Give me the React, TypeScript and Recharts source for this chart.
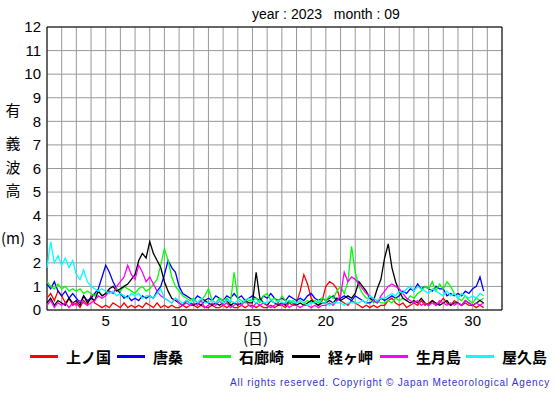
import { CartesianGrid, Line, LineChart, ReferenceArea, XAxis, YAxis } from "recharts";

// 6-hourly significant wave height (m), Sep 2023, 4 values per day
const kaminokuni = [
  0.5, 0.7, 0.4, 0.8, 0.6, 0.3, 0.5, 0.2, 0.3, 0.1, 0.4, 0.2, 0.6, 0.3, 0.2, 0.1,
  0.2, 0.1, 0.3, 0.2, 0.1, 0.3, 0.1, 0.2, 0.1, 0.2, 0.1, 0.3, 0.2, 0.1, 0.3, 0.1,
  0.2, 0.1, 0.2, 0.1, 0.1, 0.2, 0.1, 0.2, 0.2, 0.1, 0.2, 0.1, 0.1, 0.2, 0.1, 0.1,
  0.2, 0.1, 0.2, 0.1, 0.1, 0.2, 0.1, 0.2, 0.2, 0.1, 0.2, 0.1, 0.1, 0.2, 0.1, 0.2,
  0.2, 0.1, 0.3, 0.2, 0.3, 0.8, 1.5, 1.1, 0.5, 0.3, 0.2, 0.4, 1.0, 1.2, 1.1, 0.9,
  0.4, 0.3, 0.2, 0.4, 0.3, 0.2, 0.1, 0.2, 0.1, 0.2, 0.1, 0.2, 0.2, 0.4, 0.5, 0.3,
  0.2, 0.3, 0.1, 0.2, 0.3, 0.2, 0.4, 0.2, 0.3, 0.4, 0.2, 0.3, 0.5, 0.3, 0.2, 0.4,
  0.3, 0.2, 0.3, 0.2, 0.2, 0.1, 0.2, 0.1,
];
const karakuwa = [
  1.1, 0.9, 1.2, 0.8, 0.6, 0.8, 0.5, 0.7, 0.5, 0.3, 0.6, 0.4, 0.5, 0.7, 0.9, 1.4,
  1.9, 1.6, 1.2, 0.9, 0.7, 0.5, 0.6, 0.4, 0.5, 0.4, 0.6, 0.5, 0.6, 0.5, 0.8, 1.0,
  1.5, 2.1, 1.8, 1.6, 1.0, 0.7, 0.6, 0.5, 0.4, 0.6, 0.5, 0.4, 0.5, 0.4, 0.6, 0.5,
  0.4, 0.6, 0.5, 0.7, 0.5, 0.6, 0.4, 0.5, 0.6, 0.5, 0.4, 0.6, 0.5, 0.7, 0.5, 0.4,
  0.5, 0.4, 0.6, 0.5, 0.4, 0.5, 0.4, 0.6, 0.7, 0.5, 0.4, 0.5, 0.4, 0.5, 0.6, 0.4,
  0.5, 0.6, 0.5, 0.4, 0.6, 0.5, 0.4, 0.3, 0.3, 0.4, 0.3, 0.5, 0.4, 0.5, 0.6, 0.5,
  0.6, 0.8, 0.7, 0.9, 0.8, 1.1, 0.9, 1.0, 0.9, 0.8, 1.0, 0.9, 0.9, 0.6, 0.7, 0.6,
  0.7, 0.6, 0.8, 0.7, 0.9, 1.0, 1.4, 0.8,
];
const irozaki = [
  1.2, 1.0, 0.9, 1.1, 0.9, 1.0, 0.8, 0.9, 0.8, 0.9, 0.7, 0.8, 0.7, 0.6, 0.8, 0.6,
  0.7, 0.8, 0.7, 0.9, 0.8, 1.0, 0.9, 0.8, 0.7, 0.9, 1.0, 0.8, 0.9, 1.1, 1.3, 1.9,
  2.6, 2.1, 1.4, 1.0, 0.8, 0.6, 0.5, 0.4, 0.5, 0.3, 0.4, 0.6, 0.9, 0.4, 0.3, 0.5,
  0.4, 0.5, 0.3, 1.6, 0.5, 0.4, 0.3, 0.4, 0.4, 0.5, 0.3, 0.6, 0.7, 0.4, 0.5, 0.3,
  0.6, 0.4, 0.3, 0.4, 0.3, 0.4, 0.3, 0.4, 0.3, 0.4, 0.3, 0.5, 0.4, 0.6, 0.5, 0.8,
  1.0, 0.7, 1.2, 2.7, 1.6, 1.0, 0.7, 0.5, 0.5, 0.3, 0.4, 0.3, 0.3, 0.4, 0.3, 0.5,
  0.4, 0.5, 0.4, 0.6, 0.5, 0.7, 0.8, 1.0, 0.9, 1.2, 0.8, 1.1, 0.9, 1.2, 1.0, 0.7,
  0.5, 0.4, 0.6, 0.4, 0.3, 0.5, 0.4, 0.5,
];
const kyogamisaki = [
  0.3, 0.5, 0.2, 0.4, 0.3, 0.2, 0.5, 0.3, 0.4, 0.2, 0.6, 0.3, 0.5, 0.4, 0.8, 0.6,
  0.7, 0.9, 1.0, 0.8, 0.9, 1.0, 1.1, 1.3, 1.5, 2.1, 2.4, 2.2, 2.9, 2.4, 2.1, 1.8,
  1.2, 0.8, 0.5, 0.4, 0.3, 0.2, 0.4, 0.3, 0.2, 0.3, 0.2, 0.4, 0.3, 0.2, 0.3, 0.2,
  0.3, 0.4, 0.2, 0.3, 0.2, 0.3, 0.4, 0.3, 0.3, 1.6, 0.5, 0.3, 0.2, 0.4, 0.3, 0.2,
  0.3, 0.2, 0.4, 0.3, 0.2, 0.3, 0.2, 0.3, 0.4, 0.3, 0.2, 0.3, 0.3, 0.4, 0.3, 0.5,
  0.4, 0.5, 0.6, 0.5, 0.7, 1.2, 1.0, 0.8, 0.5, 0.4, 0.9, 1.3, 2.2, 2.8, 1.8, 1.2,
  0.8, 0.5, 0.4, 0.3, 0.4, 0.3, 0.5, 0.3, 0.2, 0.4, 0.3, 0.2, 0.3, 0.4, 0.2, 0.3,
  0.3, 0.2, 0.4, 0.3, 0.2, 0.3, 0.4, 0.3,
];
const ikitsukishima = [
  0.2, 0.4, 0.1, 0.3, 0.2, 0.3, 0.1, 0.3, 0.2, 0.4, 0.3, 0.2, 0.3, 0.4, 0.6, 0.5,
  0.6, 0.8, 0.7, 1.0, 1.2, 1.4, 1.9, 1.5, 1.3, 1.9, 1.6, 1.2, 1.4, 1.1, 0.8, 0.6,
  0.5, 0.4, 0.3, 0.5, 0.3, 0.2, 0.3, 0.2, 0.3, 0.2, 0.4, 0.1, 0.2, 0.3, 0.2, 0.4,
  0.2, 0.3, 0.1, 0.2, 0.3, 0.2, 0.4, 0.2, 0.1, 0.3, 0.2, 0.3, 0.2, 0.1, 0.2, 0.3,
  0.2, 0.3, 0.1, 0.2, 0.2, 0.1, 0.2, 0.2, 0.1, 0.2, 0.1, 0.2, 0.2, 0.3, 0.2, 0.4,
  0.6, 1.6, 1.2, 1.4, 1.3, 1.1, 0.9, 0.7, 0.6, 0.4, 0.3, 0.6, 0.8, 1.0, 1.1, 1.0,
  0.9, 0.7, 0.5, 0.4, 0.3, 0.4, 0.2, 0.3, 0.2, 0.3, 0.2, 0.4, 0.3, 0.2, 0.3, 0.2,
  0.3, 0.2, 0.4, 0.3, 0.2, 0.3, 0.2, 0.3,
];
const yakushima = [
  1.8, 2.9, 2.0, 2.3, 1.9, 2.2, 1.8, 2.1, 1.5, 1.3, 1.7, 1.2, 1.0, 0.9, 0.8, 0.9,
  0.8, 0.7, 0.8, 0.6, 0.7, 0.6, 0.5, 0.7, 0.6, 0.7, 0.5, 0.6, 0.6, 0.5, 0.7, 0.9,
  0.5, 0.4, 0.3, 0.5, 0.4, 0.3, 0.4, 0.3, 0.4, 0.3, 0.5, 0.3, 0.3, 0.4, 0.3, 0.4,
  0.3, 0.4, 0.4, 0.3, 0.4, 0.3, 0.4, 0.5, 0.4, 0.3, 0.4, 0.3, 0.3, 0.4, 0.3, 0.4,
  0.3, 0.3, 0.4, 0.3, 0.3, 0.4, 0.3, 0.2, 0.3, 0.3, 0.4, 0.3, 0.3, 0.2, 0.3, 0.3,
  0.3, 0.2, 0.3, 0.3, 0.3, 0.3, 0.4, 0.3, 0.6, 0.5, 0.4, 0.5, 0.5, 0.6, 0.7, 0.6,
  0.8, 0.7, 0.9, 1.0, 0.8, 1.0, 0.9, 0.8, 0.7, 0.9, 0.8, 0.7, 0.6, 0.8, 0.6, 0.7,
  0.5, 0.7, 0.6, 0.5, 0.6, 0.5, 0.7, 0.6,
];

const stations = [
  { key: "kaminokuni", name: "上ノ国", color: "#ff0000", values: kaminokuni },
  { key: "karakuwa", name: "唐桑", color: "#0000ff", values: karakuwa },
  { key: "irozaki", name: "石廊崎", color: "#00ff00", values: irozaki },
  { key: "kyogamisaki", name: "経ヶ岬", color: "#000000", values: kyogamisaki },
  { key: "ikitsukishima", name: "生月島", color: "#ff00ff", values: ikitsukishima },
  { key: "yakushima", name: "屋久島", color: "#00ffff", values: yakushima },
];

const dayTicks = Array.from({ length: 32 }, (_, i) => i + 1);
const heightTicks = Array.from({ length: 13 }, (_, i) => i);

const data = kaminokuni.map((_, i) => {
  const row: Record<string, number> = { t: 1 + i / 4 };
  stations.forEach((s) => {
    row[s.key] = s.values[i];
  });
  return row;
});

// legend positions (x of swatch start)
const legendX = [30, 117, 203, 292, 380, 466];

const font = "'Liberation Sans', Arial, sans-serif";
const cjk = "'Noto Sans CJK JP', sans-serif";

export default function App() {
  return (
    <div
      style={{
        position: "absolute",
        left: 0,
        top: 0,
        width: 555,
        height: 395,
        background: "#fff",
        fontFamily: font,
        color: "#000",
      }}
    >
      <LineChart
        width={555}
        height={395}
        data={data}
        margin={{ top: 27, right: 53, bottom: 55, left: 17 }}
      >
        <CartesianGrid stroke="#999" strokeWidth={1} />
        <XAxis
          dataKey="t"
          type="number"
          domain={[1, 32]}
          ticks={dayTicks}
          interval={0}
          tickLine={false}
          axisLine={false}
          tickSize={3}
          height={30}
          tickFormatter={(v: number) => (v % 5 === 0 ? String(v) : "")}
          tick={{ fill: "#000", fontSize: 15, fontFamily: font }}
        />
        <YAxis
          type="number"
          domain={[0, 12]}
          ticks={heightTicks}
          interval={0}
          width={30}
          tickLine={false}
          axisLine={false}
          tickSize={4}
          tickMargin={2}
          tick={{ fill: "#000", fontSize: 15, fontFamily: font }}
        />
        {stations.map((s) => (
          <Line
            key={s.key}
            dataKey={s.key}
            type="linear"
            stroke={s.color}
            strokeWidth={1.3}
            dot={false}
            isAnimationActive={false}
          />
        ))}
        <ReferenceArea x1={1} x2={32} y1={0} y2={12} fill="none" stroke="#000" strokeOpacity={1} strokeWidth={1} />
      </LineChart>

      <div style={{ position: "absolute", left: 252, top: 6, fontSize: 14, whiteSpace: "pre" }}>
        {"year : 2023   month : 09"}
      </div>

      {[
        ["有", 100],
        ["義", 133],
        ["波", 157],
        ["高", 180],
        ["(m)", 228],
      ].map(([ch, y]) => (
        <div
          key={ch as string}
          style={{ position: "absolute", left: 0, width: 26, textAlign: "center", top: y as number, fontSize: 15, fontFamily: cjk, lineHeight: "20px" }}
        >
          {ch}
        </div>
      ))}

      <div style={{ position: "absolute", left: 243, top: 330, fontSize: 15, fontFamily: cjk, lineHeight: "15px" }}>
        (日)
      </div>

      {stations.map((s, i) => (
        <div key={s.key} style={{ position: "absolute", left: legendX[i], top: 349, height: 15, display: "flex", alignItems: "center" }}>
          <span style={{ display: "inline-block", width: 28, height: 3, background: s.color, marginRight: 8 }} />
          <span style={{ fontSize: 15, fontFamily: cjk, fontWeight: 700, lineHeight: "15px" }}>{s.name}</span>
        </div>
      ))}

      <div style={{ position: "absolute", right: 5, top: 377, fontSize: 10, letterSpacing: 0.8, color: "#3333cc" }}>
        All rights reserved. Copyright © Japan Meteorological Agency
      </div>
    </div>
  );
}
